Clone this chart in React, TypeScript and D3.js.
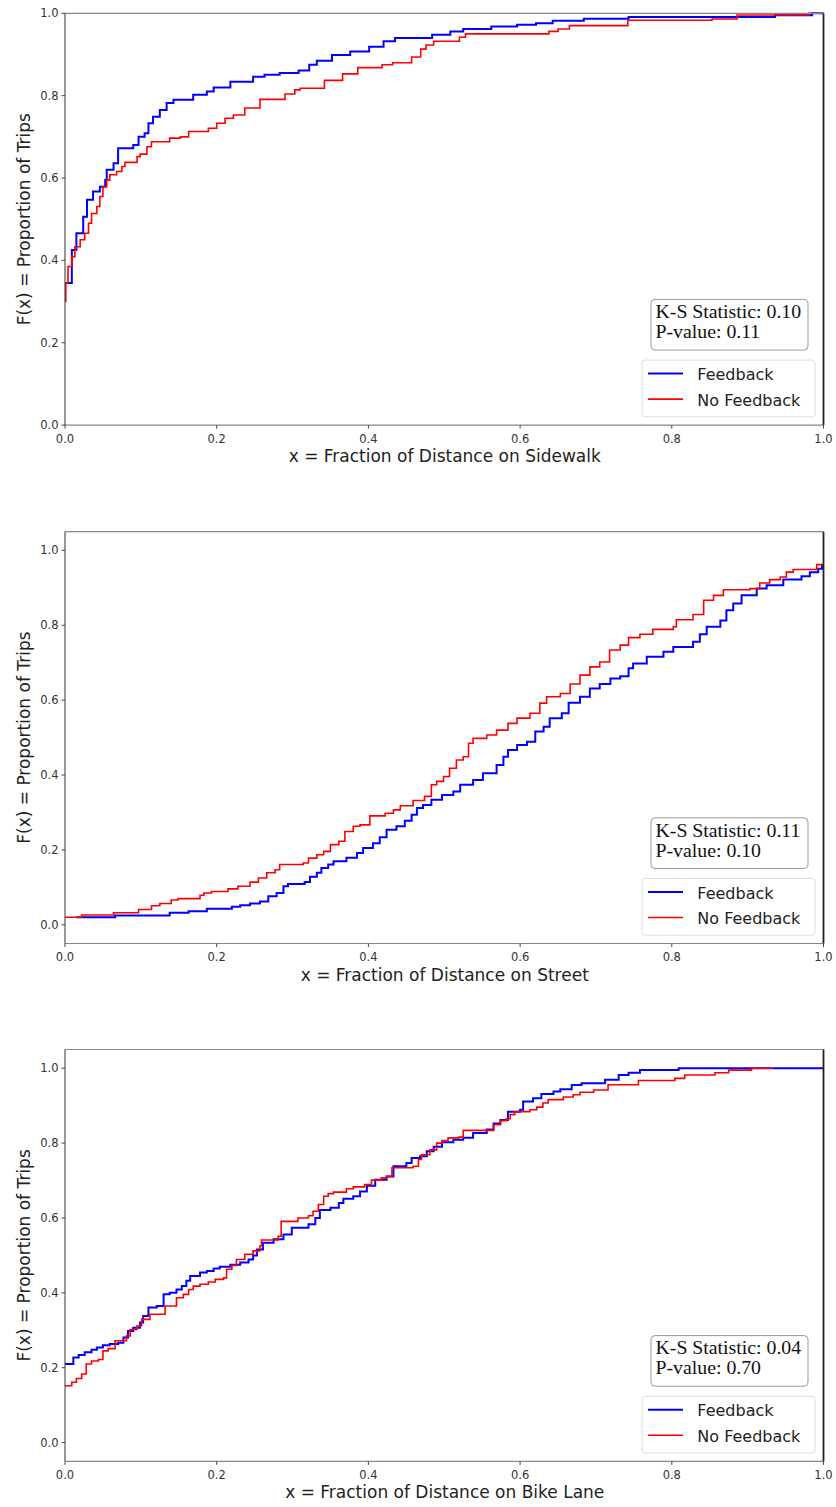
import React, { useEffect, useRef } from "react";
import * as d3 from "d3";

// ECDF steps: [x, F(x)] where F jumps to the new value at x
const sidewalkFeedback = [
  [0, 0.345], [0.009, 0.425], [0.015, 0.466], [0.024, 0.506], [0.029, 0.547], [0.037, 0.567],
  [0.046, 0.579], [0.053, 0.595], [0.055, 0.62], [0.064, 0.636], [0.07, 0.672], [0.09, 0.68],
  [0.097, 0.7], [0.105, 0.709], [0.11, 0.733], [0.116, 0.749], [0.125, 0.765], [0.134, 0.782],
  [0.143, 0.79], [0.169, 0.802], [0.187, 0.81], [0.196, 0.82], [0.218, 0.834], [0.248, 0.846],
  [0.263, 0.851], [0.283, 0.855], [0.308, 0.861], [0.322, 0.875], [0.332, 0.885], [0.352, 0.899],
  [0.376, 0.907], [0.401, 0.919], [0.42, 0.932], [0.435, 0.94], [0.484, 0.948], [0.508, 0.956],
  [0.525, 0.962], [0.562, 0.968], [0.596, 0.972], [0.621, 0.976], [0.643, 0.982], [0.684, 0.987],
  [0.743, 0.991], [0.936, 0.995], [0.985, 1.0], [1.0, 1.0],
];
const sidewalkNoFeedback = [
  [0, 0.3], [0.001, 0.345], [0.004, 0.385], [0.009, 0.409], [0.013, 0.433], [0.02, 0.45],
  [0.026, 0.466], [0.031, 0.49], [0.035, 0.514], [0.042, 0.531], [0.046, 0.555], [0.05, 0.579],
  [0.055, 0.595], [0.059, 0.608], [0.068, 0.616], [0.075, 0.628], [0.079, 0.638], [0.095, 0.652],
  [0.099, 0.658], [0.108, 0.676], [0.114, 0.688], [0.138, 0.697], [0.152, 0.7], [0.163, 0.713],
  [0.189, 0.721], [0.2, 0.733], [0.211, 0.745], [0.222, 0.753], [0.237, 0.77], [0.257, 0.791],
  [0.29, 0.804], [0.303, 0.814], [0.31, 0.818], [0.342, 0.837], [0.366, 0.853], [0.386, 0.868],
  [0.418, 0.875], [0.432, 0.88], [0.457, 0.894], [0.469, 0.913], [0.476, 0.923], [0.486, 0.932],
  [0.52, 0.942], [0.528, 0.95], [0.638, 0.956], [0.65, 0.962], [0.665, 0.97], [0.742, 0.983],
  [0.853, 0.986], [0.886, 0.996], [0.98, 1.0], [0.99, 1.0],
];

const streetFeedback = [
  [0.015, 0.02], [0.066, 0.025], [0.138, 0.032], [0.163, 0.036], [0.187, 0.043], [0.22, 0.048],
  [0.231, 0.052], [0.244, 0.057], [0.257, 0.062], [0.268, 0.076], [0.279, 0.085], [0.288, 0.103],
  [0.294, 0.109], [0.316, 0.114], [0.323, 0.128], [0.332, 0.139], [0.338, 0.152], [0.347, 0.161],
  [0.354, 0.17], [0.371, 0.179], [0.385, 0.192], [0.393, 0.205], [0.406, 0.218], [0.415, 0.234],
  [0.424, 0.254], [0.437, 0.263], [0.448, 0.278], [0.457, 0.294], [0.464, 0.312], [0.472, 0.32],
  [0.483, 0.334], [0.497, 0.347], [0.512, 0.356], [0.521, 0.374], [0.538, 0.387], [0.551, 0.405],
  [0.569, 0.427], [0.578, 0.449], [0.584, 0.467], [0.596, 0.48], [0.609, 0.489], [0.62, 0.516],
  [0.631, 0.529], [0.639, 0.552], [0.655, 0.565], [0.664, 0.593], [0.679, 0.609], [0.692, 0.631],
  [0.705, 0.643], [0.719, 0.658], [0.732, 0.664], [0.743, 0.685], [0.749, 0.698], [0.767, 0.716],
  [0.789, 0.729], [0.802, 0.742], [0.828, 0.756], [0.837, 0.776], [0.846, 0.796], [0.864, 0.813],
  [0.872, 0.84], [0.881, 0.858], [0.892, 0.88], [0.912, 0.898], [0.925, 0.907], [0.947, 0.922],
  [0.971, 0.931], [0.982, 0.942], [0.993, 0.951], [0.998, 0.96], [1.0, 0.96],
];
const streetNoFeedback = [
  [0, 0.02], [0.022, 0.026], [0.064, 0.032], [0.097, 0.041], [0.114, 0.051], [0.125, 0.057],
  [0.14, 0.066], [0.149, 0.07], [0.178, 0.079], [0.183, 0.085], [0.193, 0.089], [0.215, 0.096],
  [0.228, 0.103], [0.244, 0.114], [0.255, 0.125], [0.266, 0.139], [0.277, 0.147], [0.283, 0.161],
  [0.314, 0.165], [0.321, 0.178], [0.332, 0.187], [0.341, 0.196], [0.35, 0.214], [0.361, 0.223],
  [0.369, 0.249], [0.38, 0.263], [0.389, 0.267], [0.402, 0.291], [0.422, 0.298], [0.433, 0.307],
  [0.442, 0.318], [0.459, 0.332], [0.474, 0.343], [0.483, 0.374], [0.49, 0.383], [0.499, 0.396],
  [0.507, 0.418], [0.516, 0.44], [0.525, 0.449], [0.532, 0.485], [0.538, 0.498], [0.556, 0.507],
  [0.569, 0.52], [0.584, 0.538], [0.596, 0.552], [0.613, 0.565], [0.626, 0.592], [0.635, 0.609],
  [0.653, 0.618], [0.666, 0.643], [0.679, 0.667], [0.692, 0.689], [0.705, 0.702], [0.718, 0.734],
  [0.732, 0.747], [0.743, 0.767], [0.758, 0.776], [0.775, 0.789], [0.802, 0.796], [0.806, 0.815],
  [0.828, 0.829], [0.842, 0.867], [0.855, 0.88], [0.868, 0.895], [0.903, 0.898], [0.916, 0.913],
  [0.929, 0.922], [0.943, 0.929], [0.951, 0.942], [0.96, 0.949], [0.991, 0.962], [1.0, 0.962],
];

const bikeFeedback = [
  [0, 0.21], [0.011, 0.227], [0.018, 0.234], [0.026, 0.241], [0.035, 0.248], [0.042, 0.254],
  [0.05, 0.26], [0.059, 0.263], [0.07, 0.267], [0.077, 0.281], [0.083, 0.298], [0.09, 0.307],
  [0.099, 0.321], [0.103, 0.338], [0.11, 0.361], [0.121, 0.365], [0.13, 0.396], [0.138, 0.4],
  [0.147, 0.409], [0.154, 0.418], [0.16, 0.432], [0.165, 0.445], [0.178, 0.454], [0.187, 0.458],
  [0.196, 0.465], [0.204, 0.47], [0.218, 0.475], [0.231, 0.481], [0.242, 0.489], [0.248, 0.5],
  [0.253, 0.516], [0.261, 0.534], [0.275, 0.543], [0.288, 0.556], [0.299, 0.574], [0.321, 0.583],
  [0.33, 0.6], [0.336, 0.621], [0.35, 0.627], [0.361, 0.64], [0.367, 0.651], [0.38, 0.658],
  [0.389, 0.671], [0.398, 0.686], [0.409, 0.702], [0.424, 0.711], [0.433, 0.738], [0.45, 0.747],
  [0.457, 0.76], [0.468, 0.765], [0.477, 0.778], [0.486, 0.79], [0.497, 0.802], [0.512, 0.809],
  [0.525, 0.814], [0.538, 0.827], [0.556, 0.836], [0.565, 0.852], [0.574, 0.862], [0.584, 0.884],
  [0.6, 0.889], [0.604, 0.911], [0.617, 0.92], [0.628, 0.931], [0.644, 0.938], [0.653, 0.944],
  [0.668, 0.955], [0.681, 0.96], [0.712, 0.969], [0.73, 0.982], [0.743, 0.988], [0.758, 0.995],
  [0.809, 1.0], [1.0, 1.0],
];
const bikeNoFeedback = [
  [0, 0.152], [0.009, 0.161], [0.015, 0.171], [0.022, 0.183], [0.028, 0.21], [0.035, 0.218],
  [0.044, 0.222], [0.05, 0.245], [0.057, 0.251], [0.066, 0.272], [0.081, 0.285], [0.086, 0.302],
  [0.095, 0.312], [0.101, 0.329], [0.112, 0.343], [0.132, 0.365], [0.147, 0.387], [0.156, 0.396],
  [0.163, 0.409], [0.169, 0.418], [0.178, 0.423], [0.189, 0.429], [0.198, 0.436], [0.209, 0.44],
  [0.213, 0.463], [0.22, 0.473], [0.226, 0.489], [0.237, 0.503], [0.248, 0.512], [0.257, 0.525],
  [0.259, 0.541], [0.281, 0.551], [0.285, 0.591], [0.307, 0.6], [0.321, 0.606], [0.327, 0.618],
  [0.334, 0.636], [0.341, 0.658], [0.347, 0.665], [0.354, 0.669], [0.371, 0.678], [0.38, 0.683],
  [0.395, 0.689], [0.404, 0.701], [0.417, 0.707], [0.424, 0.711], [0.431, 0.734], [0.459, 0.738],
  [0.466, 0.756], [0.47, 0.769], [0.481, 0.782], [0.49, 0.8], [0.497, 0.807], [0.505, 0.814],
  [0.519, 0.816], [0.525, 0.834], [0.565, 0.849], [0.574, 0.86], [0.582, 0.865], [0.587, 0.876],
  [0.593, 0.884], [0.613, 0.889], [0.622, 0.896], [0.63, 0.907], [0.637, 0.916], [0.657, 0.923],
  [0.67, 0.929], [0.679, 0.936], [0.697, 0.942], [0.716, 0.956], [0.756, 0.967], [0.804, 0.973],
  [0.817, 0.982], [0.857, 0.988], [0.875, 0.995], [0.905, 1.0], [0.934, 1.0],
];

const panelNames = ["Sidewalk", "Street", "Bike Lane"];
const ksStats = ["0.10", "0.11", "0.04"];
const pValues = ["0.11", "0.10", "0.70"];
const yDomains = [[0, 1], [-0.05, 1.05], [-0.05, 1.05]];
const tickValues = [0, 0.2, 0.4, 0.6, 0.8, 1.0];
const seriesNames = ["Feedback", "No Feedback"];
const seriesColors = ["#0000ff", "#ff0000"];

const App = () => {
  const svgRef = useRef(null);

  useEffect(() => {
    const width = 836;
    const height = 1507;
    const left = 65;
    const right = 823.5;
    const tops = [13.3, 531.7, 1049.5];
    const ph = 411.8;
    const sans = "'DejaVu Sans', sans-serif";

    const svg = d3.select(svgRef.current);
    svg.selectAll("*").remove();
    svg.attr("width", width).attr("height", height);

    const allData = [
      [sidewalkFeedback, sidewalkNoFeedback],
      [streetFeedback, streetNoFeedback],
      [bikeFeedback, bikeNoFeedback],
    ];

    allData.forEach((series, i) => {
      const top = tops[i];
      const bottom = top + ph;
      const g = svg.append("g");

      const x = d3.scaleLinear().domain([0, 1]).range([left, right]);
      const y = d3.scaleLinear().domain(yDomains[i]).range([bottom, top]);

      // curves, blue first then red on top
      const line = d3.line()
        .x(d => x(d[0]))
        .y(d => y(d[1]))
        .curve(d3.curveStepAfter);

      series.forEach((pts, k) => {
        g.append("path")
          .datum(pts)
          .attr("d", line)
          .attr("fill", "none")
          .attr("stroke", seriesColors[k])
          .attr("stroke-width", k === 0 ? 2 : 1.6);
      });

      // spines
      g.append("line").attr("x1", left).attr("x2", right).attr("y1", top).attr("y2", top)
        .attr("stroke", "#888").attr("stroke-width", 1.2);
      g.append("line").attr("x1", left).attr("x2", right).attr("y1", bottom).attr("y2", bottom)
        .attr("stroke", "#888").attr("stroke-width", 1.2);
      g.append("line").attr("x1", left).attr("x2", left).attr("y1", top).attr("y2", bottom)
        .attr("stroke", "#333").attr("stroke-width", 1);
      g.append("line").attr("x1", right).attr("x2", right).attr("y1", top).attr("y2", bottom)
        .attr("stroke", "#222").attr("stroke-width", 1.8);

      // ticks
      tickValues.forEach(t => {
        g.append("line").attr("x1", x(t)).attr("x2", x(t)).attr("y1", bottom).attr("y2", bottom + 3.5)
          .attr("stroke", "#444");
        g.append("text").attr("x", x(t)).attr("y", bottom + 17.5)
          .attr("text-anchor", "middle").attr("font-family", sans).attr("font-size", 11.5)
          .attr("fill", "#333").text(d3.format(".1f")(t));
        g.append("line").attr("x1", left - 3.5).attr("x2", left).attr("y1", y(t)).attr("y2", y(t))
          .attr("stroke", "#444");
        g.append("text").attr("x", left - 6.5).attr("y", y(t)).attr("dy", "0.35em")
          .attr("text-anchor", "end").attr("font-family", sans).attr("font-size", 11.5)
          .attr("fill", "#333").text(d3.format(".1f")(t));
      });

      // axis titles
      g.append("text").attr("x", (left + right) / 2 + 0.5).attr("y", bottom + 37)
        .attr("text-anchor", "middle").attr("font-family", sans).attr("font-size", 17)
        .attr("fill", "#222").text(`x = Fraction of Distance on ${panelNames[i]}`);
      g.append("text")
        .attr("transform", `translate(29.5,${(top + bottom) / 2}) rotate(-90)`)
        .attr("text-anchor", "middle").attr("font-family", sans).attr("font-size", 17)
        .attr("fill", "#222").text("F(x) = Proportion of Trips");

      // K-S stats box
      g.append("rect").attr("x", 651).attr("y", bottom - 125.7).attr("width", 157).attr("height", 50.7)
        .attr("rx", 4).attr("fill", "#fff").attr("stroke", "#999").attr("stroke-width", 1);
      [`K-S Statistic: ${ksStats[i]}`, `P-value: ${pValues[i]}`].forEach((s, j) => {
        g.append("text")
          .attr("transform", `translate(655.5,${bottom - 107 + j * 20}) scale(1.1,1)`)
          .attr("font-family", "'Liberation Serif', 'Times New Roman', serif")
          .attr("font-size", 18).attr("fill", "#111").text(s);
      });

      // legend
      g.append("rect").attr("x", 642).attr("y", bottom - 65).attr("width", 173).attr("height", 56.7)
        .attr("rx", 3).attr("fill", "#fff").attr("fill-opacity", 0.8)
        .attr("stroke", "#ddd").attr("stroke-width", 1);
      seriesNames.forEach((name, k) => {
        const ly = bottom - 51.5 + k * 25.5;
        g.append("line").attr("x1", 648).attr("x2", 683).attr("y1", ly).attr("y2", ly)
          .attr("stroke", seriesColors[k]).attr("stroke-width", k === 0 ? 2 : 1.6);
        g.append("text").attr("x", 697.3).attr("y", ly + 6.5)
          .attr("font-family", sans).attr("font-size", 16).attr("fill", "#222").text(name);
      });
    });
  }, []);

  return (
    <svg ref={svgRef} style={{ position: "absolute", left: 0, top: 0, background: "#fff" }}></svg>
  );
};

export default App;
